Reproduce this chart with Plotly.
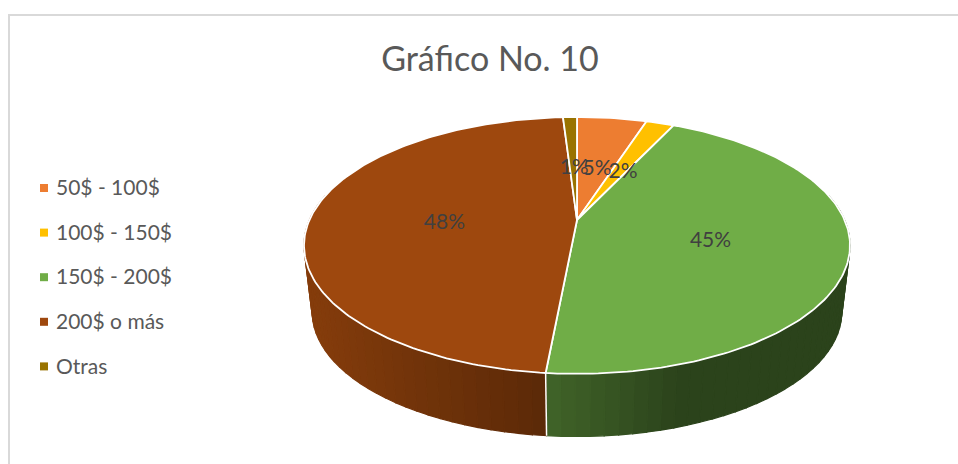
import numpy as np
import plotly.graph_objects as go

categories = ["50$ - 100$", "100$ - 150$", "150$ - 200$", "200$ o más", "Otras"]
values = [5.0, 2.0, 44.5, 47.5, 1.0]
colors = ["#ED7D31", "#FFC000", "#70AD47", "#9E480E", "#997300"]
title = "Gráfico No. 10"

# Projection of the tilted disc onto the page (pixels of the 958x464 canvas)
CX, CY = 577.0, 220.0
A, B, K = 267.6, 123.4, 0.198
ELL_MID = 245.5
WALL_DROP, WALL_SCALE = 66.5, 0.97
TEXT = "#404040"
LEGEND_TEXT = "#595959"
GRID = "#D9D9D9"


def top(theta_deg, r=1.0):
    t = np.radians(theta_deg)
    u, v = r * np.sin(t), r * np.cos(t)
    d = 1 + K * v
    return CX + A * u / d, CY - B * v / d


def bottom(theta_deg):
    x, y = top(theta_deg)
    return CX + WALL_SCALE * (x - CX), ELL_MID + WALL_DROP + WALL_SCALE * (y - ELL_MID)


def shade(hex_color, x):
    f = float(np.interp(x, [310, 546, 680, 850], [0.84, 0.58, 0.39, 0.39]))
    rgb = [int(hex_color[i:i + 2], 16) for i in (1, 3, 5)]
    return "rgb({},{},{})".format(*[int(c * f) for c in rgb])


total = sum(values)
edges = np.concatenate([[0], np.cumsum(values)]) / total * 360

fig = go.Figure()

# Side wall, drawn as narrow overlapping strips so the shading can vary along it
VIS_START, VIS_END = 78.0, 282.0
for i, col in enumerate(colors):
    a0, a1 = max(edges[i], VIS_START), min(edges[i + 1], VIS_END)
    if a1 <= a0:
        continue
    steps = np.linspace(a0, a1, max(2, int((a1 - a0) / 2.5) + 1))
    for s0, s1 in zip(steps[:-1], steps[1:]):
        x0, y0 = top(s0)
        x1, y1 = top(s1)
        x2, y2 = bottom(s1)
        x3, y3 = bottom(s0)
        c = shade(col, (x0 + x1) / 2)
        fig.add_trace(go.Scatter(x=[x0, x1, x2, x3, x0], y=[y0, y1, y2, y3, y0],
                                 mode="lines", fill="toself", fillcolor=c,
                                 line=dict(color=c, width=1.2),
                                 hoverinfo="skip", showlegend=False))

# White separators on the wall at slice boundaries
for e in edges[1:-1]:
    if VIS_START < e < VIS_END:
        xa, ya = top(e)
        xb, yb = bottom(e)
        fig.add_trace(go.Scatter(x=[xa, xb], y=[ya, yb], mode="lines",
                                 line=dict(color="white", width=1.5),
                                 hoverinfo="skip", showlegend=False))

# Top face slices
for i, (name, col) in enumerate(zip(categories, colors)):
    th = np.linspace(edges[i], edges[i + 1], max(3, int(values[i] * 3.6)))
    px, py = top(th)
    xs = np.concatenate([[CX], px, [CX]])
    ys = np.concatenate([[CY], py, [CY]])
    fig.add_trace(go.Scatter(x=xs, y=ys, mode="lines", fill="toself", fillcolor=col,
                             line=dict(color="white", width=1.8), name=name,
                             hoverinfo="name", showlegend=False))

# Percentage labels
mids = (edges[:-1] + edges[1:]) / 2
lx, ly = top(mids, 0.5)
fig.add_trace(go.Scatter(x=lx + 1, y=ly + 5, mode="text",
                         text=[f"{int(v / total * 100 + 0.5)}%" for v in values],
                         textposition="middle center",
                         textfont=dict(family="Lato", size=21, color=TEXT),
                         hoverinfo="skip", showlegend=False))

# Legend rows
LEG_Y0, LEG_STEP = 188.0, 44.6
for i, (name, col) in enumerate(zip(categories, colors)):
    y = LEG_Y0 + i * LEG_STEP
    fig.add_trace(go.Scatter(x=[44], y=[y], mode="markers",
                             marker=dict(symbol="square", size=8, color=col),
                             hoverinfo="skip", showlegend=False))
    fig.add_trace(go.Scatter(x=[56], y=[y + 2], mode="text", text=[name],
                             textposition="middle right",
                             textfont=dict(family="Lato", size=21, color=LEGEND_TEXT),
                             hoverinfo="skip", showlegend=False))

fig.update_layout(
    width=958, height=464, margin=dict(l=0, r=0, t=0, b=0),
    paper_bgcolor="white", plot_bgcolor="white", showlegend=False,
    title=dict(text=title, x=490 / 958, xanchor="center", y=1 - 59 / 464, yanchor="middle",
               font=dict(family="Lato", size=34, color=LEGEND_TEXT)),
    xaxis=dict(range=[0, 958], visible=False, fixedrange=True),
    yaxis=dict(range=[464, 0], visible=False, fixedrange=True),
    shapes=[
        dict(type="line", xref="x", yref="y", x0=9, x1=958, y0=15, y1=15,
             line=dict(color=GRID, width=2)),
        dict(type="line", xref="x", yref="y", x0=9, x1=9, y0=14, y1=464,
             line=dict(color=GRID, width=2)),
    ],
)

fig.write_html("out.html", config={"displayModeBar": False},
               post_script="document.body.style.margin='0';document.body.style.overflow='hidden';")
